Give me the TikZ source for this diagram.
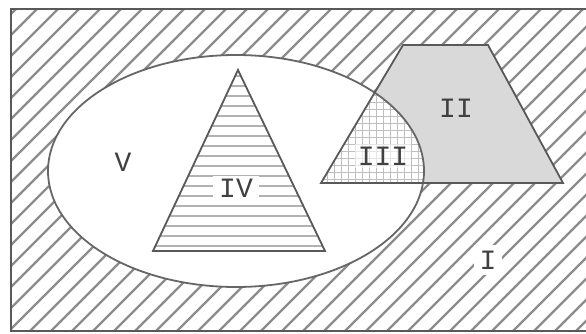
\documentclass[tikz,border=0pt]{standalone}
\usepackage{fontspec}
\newfontfamily\romanfont{Liberation Mono}
\begin{document}
\begin{tikzpicture}[
  x=1pt, y=-1pt,
  outline/.style={draw=black!65, line width=1.8pt},
  hatch/.style={draw=black!45, line width=2.4pt},
  stripe/.style={draw=black!30, line width=1.6pt},
  gridline/.style={draw=black!25, line width=0.8pt},
  region/.style={font=\romanfont\fontsize{28}{28}\selectfont, text=black!75, inner sep=3pt},
]
\useasboundingbox (0,0) rectangle (586,334);
% hatched universe
\begin{scope}
  \clip (11,9) rectangle (600,331);
  \foreach \i in {-17,...,30}
    \draw[hatch] (\i*21,340) -- ++(340,-340);
\end{scope}
% sets
\fill[black!15] (403,45) -- (488,45) -- (563,183) -- (321,183) -- cycle;
\fill[white] (236,171) ellipse [x radius=188, y radius=116];
\begin{scope}
  \clip (236,171) ellipse [x radius=188, y radius=116];
  \clip (403,45) -- (488,45) -- (563,183) -- (321,183) -- cycle;
  \foreach \x in {320,327,...,430}
    \draw[gridline] (\x,40) -- (\x,190);
  \foreach \y in {88,95,...,186}
    \draw[gridline] (310,\y) -- (440,\y);
\end{scope}
\begin{scope}
  \clip (238,70) -- (325,251) -- (153,251) -- cycle;
  \foreach \y in {76,86,...,250}
    \draw[stripe] (140,\y) -- (340,\y);
\end{scope}
% outlines
\draw[outline, line width=2.6pt] (11,9) rectangle (600,331);
\draw[outline, draw=black!60] (236,171) ellipse [x radius=188, y radius=116];
\draw[outline] (403,45) -- (488,45) -- (563,183) -- (321,183) -- cycle;
\draw[outline] (238,70) -- (325,251) -- (153,251) -- cycle;
% labels
\node[region] (lblV) at (123,162) {V};
\node[region, fill=white, inner xsep=6pt] (lblIV) at (236,188) {IV};
\node[region, fill=white, fill opacity=0.6, text opacity=1] (lblIII) at (383,156) {III};
\node[region] (lblII) at (456,108) {II};
\node[region, fill=white, inner sep=6pt] (lblI) at (488,260) {I};
\end{tikzpicture}
\end{document}
